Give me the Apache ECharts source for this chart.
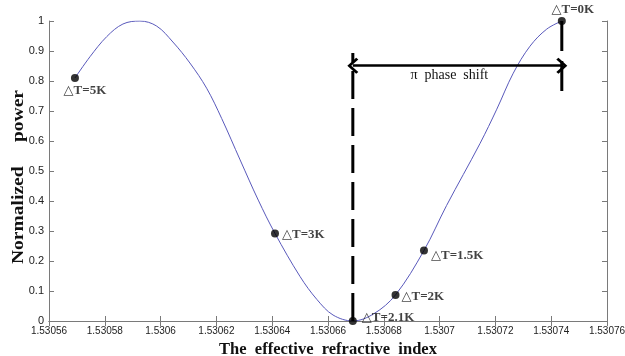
<!DOCTYPE html>
<html>
<head>
<meta charset="utf-8">
<script src="https://cdn.jsdelivr.net/npm/echarts@6/dist/echarts.min.js"></script>
<style>
  html, body { margin: 0; padding: 0; background: #fff; }
  #chart { width: 625px; height: 356px; }
</style>
</head>
<body>
<div id="chart"></div>
<script>
// Normalized transmitted power versus effective refractive index
const curveX = [1.5305693, 1.5305747, 1.5305807, 1.5305865, 1.5305926, 1.5305986, 1.5306044,
  1.5306105, 1.5306165, 1.5306219, 1.5306285, 1.530635, 1.530641, 1.53065,
  1.530656, 1.5306618, 1.5306689, 1.5306764, 1.5306842, 1.5306944, 1.5307025, 1.5307145,
  1.5307205, 1.5307264, 1.5307324, 1.5307384, 1.5307438];
const curveY = [0.81, 0.881, 0.948, 0.99, 1.0, 0.983, 0.93, 0.86, 0.776, 0.675, 0.537,
  0.403, 0.292, 0.148, 0.072, 0.02, 0, 0.024, 0.087, 0.235, 0.385, 0.592, 0.706,
  0.826, 0.916, 0.973, 1.0];

// Temperature-change operating points on the curve
const pointX = [1.5305693, 1.530641, 1.5306689, 1.5306842, 1.5306944, 1.5307438];
const pointY = [0.81, 0.292, 0, 0.087, 0.235, 1];
const pointLabels = ['△T=5K', '△T=3K', '△T=2.1K', '△T=2K', '△T=1.5K', '△T=0K'];

// Phase-shift marker: dashed guides at the minimum and the maximum
const leftGuideY = [0, 0.893];
const rightGuideY = [1, 0.76];
const arrowY = 0.851;
const arrowText = 'π  phase  shift';

// Axis settings
const xMin = 1.53056, xMax = 1.53076, xStep = 0.00002;
const yMin = 0, yMax = 1, yStep = 0.1;
const xTitle = 'The  effective  refractive  index';
const yTitle = 'Normalized     power';

const serif = '"Liberation Serif", "Times New Roman", "DejaVu Serif", serif';
const sans = '"Liberation Sans", Arial, sans-serif';
const axisGray = '#7a7a7a';

// Label placement for each operating point
const labelPlace = [
  { position: 'bottom', distance: 2, offset: [10, 0] },
  { position: 'right', distance: 3, offset: [0, 1] },
  { position: 'right', distance: 5, offset: [0, -3] },
  { position: 'right', distance: 2, offset: [0, 2] },
  { position: 'right', distance: 3, offset: [0, 5] },
  { position: 'top', distance: 1, offset: [11, 0] }
];

const xFmt = v => parseFloat(v.toFixed(5)).toString();
const yFmt = v => parseFloat(v.toFixed(1)).toString();

const curveData = curveX.map((x, i) => [x, curveY[i]]);
const pointData = pointX.map((x, i) => ({
  value: [x, pointY[i]],
  label: Object.assign({
    show: true,
    formatter: pointLabels[i],
    fontFamily: serif,
    fontWeight: 'bold',
    fontSize: 13,
    color: '#111'
  }, labelPlace[i])
}));

const xMinPt = pointX[2];   // minimum (ΔT = 2.1K)
const xMaxPt = pointX[5];   // maximum (ΔT = 0K)

// open chevron arrow head pointing up (rotated by the library along the line)
const chevron = 'path://M0,0 L10,9 L7.8,11.2 L0,4 L-7.8,11.2 L-10,9 Z';

const axisCommon = {
  type: 'value',
  axisLine: { show: true, lineStyle: { color: axisGray, width: 1 } },
  axisTick: { show: true, inside: true, length: 5, lineStyle: { color: axisGray } },
  splitLine: { show: false }
};

const option = {
  animation: false,
  backgroundColor: '#ffffff',
  grid: { left: 49, right: 18, top: 21, bottom: 35, containLabel: false, outerBoundsMode: 'none' },
  graphic: [
    {
      // vertical axis title, stretched along its reading direction
      type: 'text',
      x: 19, y: 177,
      rotation: Math.PI / 2,
      scaleX: 1.22,
      style: {
        text: yTitle,
        font: 'bold 16px ' + serif,
        fill: '#111',
        textAlign: 'center',
        textVerticalAlign: 'middle'
      }
    }
  ],
  xAxis: [
    Object.assign({}, axisCommon, {
      min: xMin, max: xMax, interval: xStep, position: 'bottom',
      axisLabel: { formatter: xFmt, fontFamily: sans, fontSize: 10, color: '#222', margin: 5 },
      name: xTitle, nameLocation: 'middle', nameGap: 10,
      nameTextStyle: { fontFamily: serif, fontWeight: 'bold', fontSize: 16.5, color: '#111' }
    }),
    Object.assign({}, axisCommon, {
      min: xMin, max: xMax, interval: xStep, position: 'top',
      axisLabel: { show: false }
    })
  ],
  yAxis: [
    Object.assign({}, axisCommon, {
      min: yMin, max: yMax, interval: yStep, position: 'left',
      axisLabel: { formatter: yFmt, fontFamily: sans, fontSize: 11, color: '#222', margin: 5 }
    }),
    Object.assign({}, axisCommon, {
      min: yMin, max: yMax, interval: yStep, position: 'right',
      axisLabel: { show: false }
    })
  ],
  series: [
    {
      name: 'power',
      type: 'line',
      data: curveData,
      smooth: 0.35,
      showSymbol: false,
      lineStyle: { color: '#5959bb', width: 1 },
      z: 2
    },
    {
      name: 'minimum guide',
      type: 'line',
      data: [[xMinPt, leftGuideY[0]], [xMinPt, leftGuideY[1]]],
      showSymbol: false,
      clip: false,
      lineStyle: { color: '#000', width: 3, type: [28, 9] },
      z: 3
    },
    {
      name: 'maximum guide',
      type: 'line',
      data: [[xMaxPt, rightGuideY[0]], [xMaxPt, rightGuideY[1]]],
      showSymbol: false,
      clip: false,
      lineStyle: { color: '#000', width: 3, type: [30, 10] },
      z: 3,
      markLine: {
        silent: true,
        symbol: [chevron, chevron],
        symbolSize: [16, 11],
        lineStyle: { color: '#000', width: 2.5, type: 'solid' },
        label: {
          show: true,
          position: 'insideMiddleBottom',
          formatter: arrowText,
          distance: 3,
          fontFamily: serif,
          fontSize: 14,
          color: '#111',
          padding: [0, 16, 0, 0]
        },
        data: [[{ coord: [xMinPt, arrowY] }, { coord: [xMaxPt, arrowY] }]]
      }
    },
    {
      name: 'points',
      type: 'scatter',
      data: pointData,
      symbol: 'circle',
      symbolSize: 8,
      clip: false,
      itemStyle: { color: '#000' },
      z: 5
    }
  ]
};

const chart = echarts.init(document.getElementById('chart'), null, { renderer: 'canvas' });
chart.setOption(option);
</script>
</body>
</html>
